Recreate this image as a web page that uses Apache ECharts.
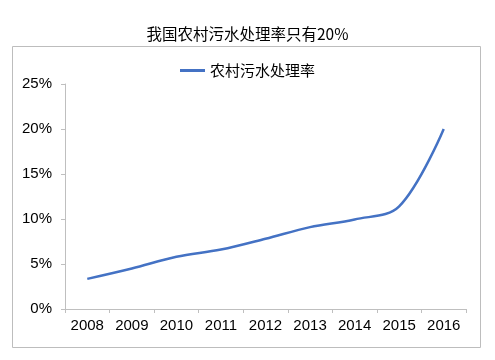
<!DOCTYPE html>
<html><head><meta charset="utf-8">
<script src="https://cdn.jsdelivr.net/npm/echarts@6/dist/echarts.min.js"></script>
<style>html,body{margin:0;padding:0;background:#fff}#c{width:495px;height:360px}</style>
</head><body><div id="c"></div>
<script>
var categories = ['2008','2009','2010','2011','2012','2013','2014','2015','2016'];
var seriesName = '农村污水处理率';
var values = [3.35, 4.5, 5.8, 6.6, 7.8, 9.1, 9.95, 11.4, 20.0];
var yTicks = [0, 5, 10, 15, 20, 25];

var chart = echarts.init(document.getElementById('c'));
chart.setOption({
  animation: false,
  title: {
    text: '我国农村污水处理率只有20%',
    left: 'center', top: 21,
    textStyle: {fontFamily: 'Noto Sans CJK SC', fontSize: 15.5, fontWeight: 'normal', color: '#000'}
  },
  graphic: [{
    type: 'rect', shape: {x: 12.5, y: 46.5, width: 468, height: 301},
    style: {fill: 'none', stroke: '#bdbdbd', lineWidth: 1}, z: -1
  }],
  legend: {
    top: 58, left: 'center',
    itemWidth: 25, itemHeight: 3, itemGap: 6,
    icon: 'rect',
    textStyle: {fontFamily: 'Noto Sans CJK SC', fontSize: 15, color: '#000'},
    data: [seriesName]
  },
  grid: {left: 65, right: 29, top: 84, bottom: 51},
  xAxis: {
    type: 'category', data: categories, boundaryGap: true,
    axisLine: {lineStyle: {color: '#bfbfbf'}},
    axisTick: {show: true, length: 4, lineStyle: {color: '#bfbfbf'}},
    axisLabel: {fontFamily: 'Liberation Sans', fontSize: 15, color: '#000', margin: 9}
  },
  yAxis: {
    type: 'value', min: 0, max: 25, interval: 5,
    axisLine: {show: true, lineStyle: {color: '#bfbfbf'}},
    axisTick: {show: true, length: 4, lineStyle: {color: '#bfbfbf'}},
    splitLine: {show: false},
    axisLabel: {fontFamily: 'Liberation Sans', fontSize: 15, color: '#000', margin: 13,
      formatter: function (v) { return yTicks.indexOf(v) >= 0 ? v + '%' : ''; }}
  },
  series: [{
    name: seriesName, type: 'line', data: values, smooth: 0.35,
    symbol: 'none', lineStyle: {color: '#4472C4', width: 2.5},
    itemStyle: {color: '#4472C4'}
  }]
});
</script></body></html>
